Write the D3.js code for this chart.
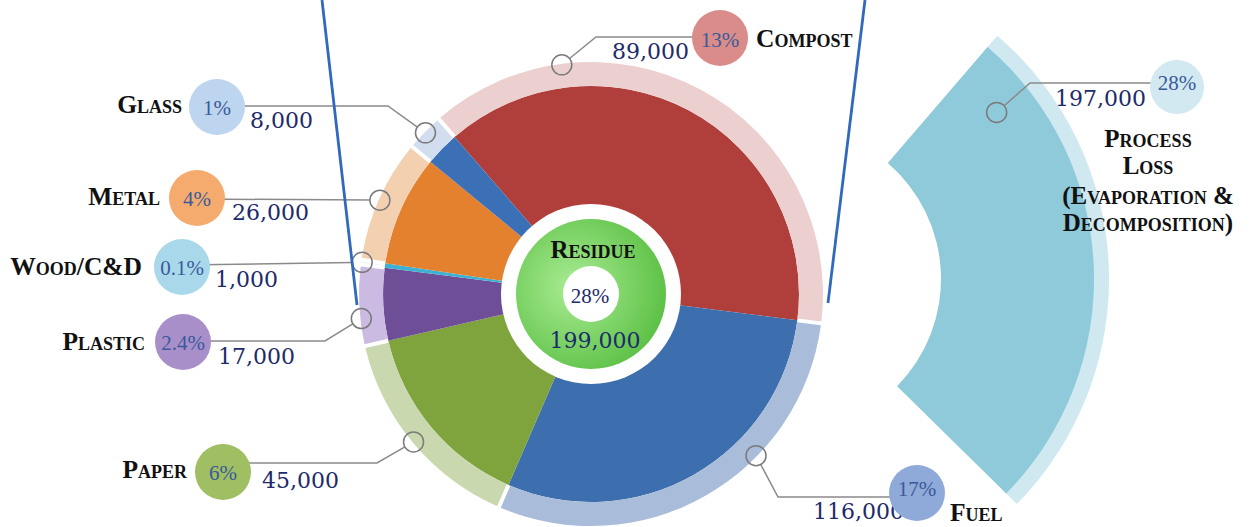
<!DOCTYPE html>
<html>
<head>
<meta charset="utf-8">
<script src="https://cdn.jsdelivr.net/npm/d3@7"></script>
<style>
  html, body { margin: 0; padding: 0; background: #fff; }
  #chart { width: 1250px; height: 527px; overflow: hidden; }
  .label { font-family: "Liberation Serif", serif; font-weight: bold; font-variant: small-caps; font-size: 25.5px; fill: #111; }
  .loss-name { font-size: 25px; }
  .value { font-family: "DejaVu Serif", serif; font-size: 22px; fill: #1d2a6b; }
  .share { font-family: "Liberation Serif", serif; font-size: 21px; fill: #3a5a9c; }
  .leader { fill: none; stroke: #8a8a8a; stroke-width: 1.5; }
  .anchor { fill: none; stroke: #7b7b7b; stroke-width: 1.5; }
  .guide { stroke: #3169bd; stroke-width: 2.8; }
</style>
</head>
<body>
<div id="chart"></div>
<script>
// ---- data ----
const categories = ["Compost", "Fuel", "Paper", "Plastic", "Wood/C&D", "Metal", "Glass"];
const tonnes = [89000, 116000, 45000, 17000, 1000, 26000, 8000];
const shareLabels = ["13%", "17%", "6%", "2.4%", "0.1%", "4%", "1%"];
// wedge sizes as drawn: in the reference the compost wedge has the fuel size and vice versa
const wedgeTonnes = [116000, 89000, 45000, 17000, 1000, 26000, 8000];

const residueTonnes = 199000;
const residueShare = "28%";

const lossTonnes = 197000;
const lossShare = "28%";
const lossLabel = ["Process", "Loss", "(Evaporation &", "Decomposition)"];
// the loss wedge is drawn at roughly 26% of a full turn
const lossTurnTonnes = 756000;

// ---- styles / layout ----
const deg = Math.PI / 180;

const wedgeColor = {
  Compost: "#b03f3c", Fuel: "#3d6eae", Paper: "#7fa33d", Plastic: "#6e4e97",
  "Wood/C&D": "#3fb1d2", Metal: "#e3812f", Glass: "#3c70b6",
};
const ringColor = {
  Compost: "#ecd0cf", Fuel: "#a9bcda", Paper: "#c9d8ae", Plastic: "#cbbbe2",
  "Wood/C&D": "#eef2f3", Metal: "#f3d0b0", Glass: "#d3ddf0",
};
const bubbleColor = {
  Compost: "#d98c89", Fuel: "#8fa9d8", Paper: "#a0be62", Plastic: "#a88fca",
  "Wood/C&D": "#a8d8ea", Metal: "#f6ab6e", Glass: "#bdd5ef",
};

// t = where along the wedge the leader touches the ring
const calloutLayout = {
  Glass:      { t: 0.5,   bubble: [217, 107], lineY: 106, elbowX: 388,  value: [250, 128], label: [182, 113], side: "left",  shareDy: 8 },
  Metal:      { t: 0.5,   bubble: [197, 198], lineY: 199, elbowX: null, value: [232, 220], label: [160, 205], side: "left",  shareDy: 8 },
  "Wood/C&D": { t: 0.5,   bubble: [182, 267], lineY: 265, elbowX: null, value: [215, 287], label: [142, 275], side: "left",  shareDy: 8 },
  Plastic:    { t: 0.34,  bubble: [183, 342], lineY: 341, elbowX: 325,  value: [218, 364], label: [145, 350], side: "left",  shareDy: 8 },
  Paper:      { t: 0.5,   bubble: [223, 472], lineY: 463, elbowX: 377,  value: [262, 488], label: [187, 478], side: "left",  shareDy: 8 },
  Compost:    { t: 0.244, bubble: [720, 38],  lineY: 37,  elbowX: 596,  value: [612, 59],  label: [756, 47],  side: "right", shareDy: 9 },
  Fuel:       { t: 0.35,  bubble: [917, 493], lineY: 497, elbowX: 778,  value: [813, 519], label: [950, 521], side: "right", shareDy: 3 },
};

class WasteVis {
  constructor(_parentElement) {
    this.parentElement = _parentElement;
    this.initVis();
  }

  initVis() {
    let vis = this;

    vis.width = 1250;
    vis.height = 527;
    vis.center = [591, 294];
    vis.radius = 208;
    vis.ringOuter = 232;
    vis.anchorRadius = 231;
    vis.anchorSize = 10;
    vis.bubbleSize = 28;

    vis.lossCenter = [788, 279];
    vis.lossStart = 40.7 * deg;

    vis.svg = d3
      .select("#" + vis.parentElement)
      .append("svg")
      .attr("width", vis.width)
      .attr("height", vis.height);

    let grad = vis.svg
      .append("defs")
      .append("radialGradient")
      .attr("id", "residueGrad")
      .attr("cx", "38%")
      .attr("cy", "45%")
      .attr("r", "70%");
    grad.append("stop").attr("offset", "0%").attr("stop-color", "#a9ec93");
    grad.append("stop").attr("offset", "100%").attr("stop-color", "#55bc3e");

    vis.pie = d3
      .pie()
      .sort(null)
      .value((d) => d.wedge)
      .startAngle(-41 * deg)
      .endAngle(319 * deg);

    vis.wedgeArc = d3.arc().innerRadius(0).outerRadius(vis.radius);
    vis.ringArc = d3
      .arc()
      .innerRadius(vis.radius)
      .outerRadius(vis.ringOuter)
      .padAngle(0.018)
      .padRadius(220);

    vis.lossAngle = d3.scaleLinear().domain([0, lossTurnTonnes]).range([0, 2 * Math.PI]);

    vis.lossGroup = vis.svg.append("g").attr("transform", `translate(${vis.lossCenter})`);
    vis.pieGroup = vis.svg.append("g").attr("transform", `translate(${vis.center})`);
    vis.residueGroup = vis.svg.append("g").attr("transform", `translate(${vis.center})`);
    vis.leaderGroup = vis.svg.append("g").attr("class", "leaders");
    vis.textGroup = vis.svg.append("g").attr("class", "texts");
    vis.guideGroup = vis.svg.append("g").attr("class", "guides");

    vis.wrangleData();
  }

  wrangleData() {
    let vis = this;

    vis.displayData = vis.pie(
      categories.map((c, i) => ({
        name: c,
        tonnes: tonnes[i],
        share: shareLabels[i],
        wedge: wedgeTonnes[i],
      }))
    );

    // anchor point on the ring, leader polyline and trimmed end
    vis.displayData.forEach((d) => {
      let lay = calloutLayout[d.data.name];
      let a = d.startAngle + lay.t * (d.endAngle - d.startAngle);
      let ax = vis.center[0] + vis.anchorRadius * Math.sin(a);
      let ay = vis.center[1] - vis.anchorRadius * Math.cos(a);
      d.anchor = [ax, ay];
      d.leader = vis.leaderPoints([lay.bubble[0], lay.lineY], lay.elbowX, d.anchor, lay.lineY);
    });

    let l0 = vis.lossStart;
    let l1 = l0 + vis.lossAngle(lossTonnes);
    let la = l0 + 0.114 * (l1 - l0);
    vis.loss = {
      start: l0,
      end: l1,
      anchor: [
        vis.lossCenter[0] + 267 * Math.sin(la),
        vis.lossCenter[1] - 267 * Math.cos(la),
      ],
      bubble: [1177, 87],
      lineY: 83,
      elbowX: 1030,
    };
    vis.loss.leader = vis.leaderPoints(
      [vis.loss.bubble[0], vis.loss.lineY],
      vis.loss.elbowX,
      vis.loss.anchor,
      vis.loss.lineY
    );

    vis.updateVis();
  }

  leaderPoints(start, elbowX, anchor, lineY) {
    let vis = this;
    let pts = [start];
    if (elbowX !== null) pts.push([elbowX, lineY]);
    let prev = pts[pts.length - 1];
    let dx = prev[0] - anchor[0];
    let dy = prev[1] - anchor[1];
    let len = Math.hypot(dx, dy);
    pts.push([
      anchor[0] + (dx / len) * vis.anchorSize,
      anchor[1] + (dy / len) * vis.anchorSize,
    ]);
    return pts;
  }

  updateVis() {
    let vis = this;
    let fmt = d3.format(",");

    // process loss wedge
    let lossBand = d3.arc().innerRadius(300).outerRadius(321);
    let lossArc = d3.arc().innerRadius(153).outerRadius(306);
    vis.lossGroup
      .append("path")
      .attr("d", lossBand({ startAngle: vis.loss.start, endAngle: vis.loss.end }))
      .attr("fill", "#d0e8f0");
    vis.lossGroup
      .append("path")
      .attr("d", lossArc({ startAngle: vis.loss.start, endAngle: vis.loss.end }))
      .attr("fill", "#8fcadb");

    // wedges and light ring
    vis.pieGroup
      .selectAll(".wedge")
      .data(vis.displayData)
      .join("path")
      .attr("class", "wedge")
      .attr("d", vis.wedgeArc)
      .attr("fill", (d) => wedgeColor[d.data.name]);

    vis.pieGroup
      .selectAll(".ring")
      .data(vis.displayData)
      .join("path")
      .attr("class", "ring")
      .attr("d", vis.ringArc)
      .attr("fill", (d) => ringColor[d.data.name]);

    // residue in the middle
    vis.residueGroup.append("circle").attr("r", 90).attr("fill", "#fff");
    vis.residueGroup.append("circle").attr("r", 75).attr("fill", "url(#residueGrad)");
    vis.residueGroup.append("circle").attr("r", 28).attr("fill", "#fff");
    vis.residueGroup
      .append("text")
      .attr("class", "label")
      .attr("x", 2)
      .attr("y", -36)
      .attr("text-anchor", "middle")
      .style("font-size", "25px")
      .text("Residue");
    vis.residueGroup
      .append("text")
      .attr("class", "share")
      .attr("x", -1)
      .attr("y", 9)
      .attr("text-anchor", "middle")
      .style("fill", "#1d2a6b")
      .text(residueShare);
    vis.residueGroup
      .append("text")
      .attr("class", "value")
      .attr("x", 4)
      .attr("y", 54)
      .attr("text-anchor", "middle")
      .text(fmt(residueTonnes));

    // leaders and ring anchors
    let line = d3.line();
    let callouts = vis.displayData.concat([{ leader: vis.loss.leader, anchor: vis.loss.anchor }]);

    vis.leaderGroup
      .selectAll(".leader")
      .data(callouts)
      .join("path")
      .attr("class", "leader")
      .attr("d", (d) => line(d.leader));

    vis.leaderGroup
      .selectAll(".anchor")
      .data(callouts)
      .join("circle")
      .attr("class", "anchor")
      .attr("cx", (d) => d.anchor[0])
      .attr("cy", (d) => d.anchor[1])
      .attr("r", vis.anchorSize);

    // values, bubbles, shares, names
    vis.textGroup
      .selectAll(".value")
      .data(vis.displayData)
      .join("text")
      .attr("class", "value")
      .attr("x", (d) => calloutLayout[d.data.name].value[0])
      .attr("y", (d) => calloutLayout[d.data.name].value[1])
      .text((d) => fmt(d.data.tonnes));

    vis.textGroup
      .append("text")
      .attr("class", "value")
      .attr("x", 1055)
      .attr("y", 106)
      .text(fmt(lossTonnes));

    vis.textGroup
      .selectAll(".bubble")
      .data(vis.displayData)
      .join("circle")
      .attr("class", "bubble")
      .attr("cx", (d) => calloutLayout[d.data.name].bubble[0])
      .attr("cy", (d) => calloutLayout[d.data.name].bubble[1])
      .attr("r", vis.bubbleSize)
      .attr("fill", (d) => bubbleColor[d.data.name]);

    vis.textGroup
      .append("circle")
      .attr("cx", vis.loss.bubble[0])
      .attr("cy", vis.loss.bubble[1])
      .attr("r", 27)
      .attr("fill", "#d2e9f2");

    vis.textGroup
      .selectAll(".share")
      .data(vis.displayData)
      .join("text")
      .attr("class", "share")
      .attr("x", (d) => calloutLayout[d.data.name].bubble[0])
      .attr("y", (d) => calloutLayout[d.data.name].bubble[1] + calloutLayout[d.data.name].shareDy)
      .attr("text-anchor", "middle")
      .text((d) => d.data.share);

    vis.textGroup
      .append("text")
      .attr("class", "share")
      .attr("x", vis.loss.bubble[0])
      .attr("y", 90)
      .attr("text-anchor", "middle")
      .text(lossShare);

    vis.textGroup
      .selectAll(".name")
      .data(vis.displayData)
      .join("text")
      .attr("class", "label name")
      .attr("x", (d) => calloutLayout[d.data.name].label[0])
      .attr("y", (d) => calloutLayout[d.data.name].label[1])
      .attr("text-anchor", (d) => (calloutLayout[d.data.name].side === "left" ? "end" : "start"))
      .text((d) => d.data.name);

    vis.textGroup
      .selectAll(".loss-name")
      .data(lossLabel)
      .join("text")
      .attr("class", "label loss-name")
      .attr("x", 1148)
      .attr("y", (d, i) => [147, 174, 204, 231][i])
      .attr("text-anchor", "middle")
      .text((d) => d);

    // the two blue guide strokes coming down from above
    vis.guideGroup
      .selectAll(".guide")
      .data([
        [[322, 0], [357, 305]],
        [[865, 0], [828, 303]],
      ])
      .join("line")
      .attr("class", "guide")
      .attr("x1", (d) => d[0][0])
      .attr("y1", (d) => d[0][1])
      .attr("x2", (d) => d[1][0])
      .attr("y2", (d) => d[1][1]);
  }
}

new WasteVis("chart");
</script>
</body>
</html>
